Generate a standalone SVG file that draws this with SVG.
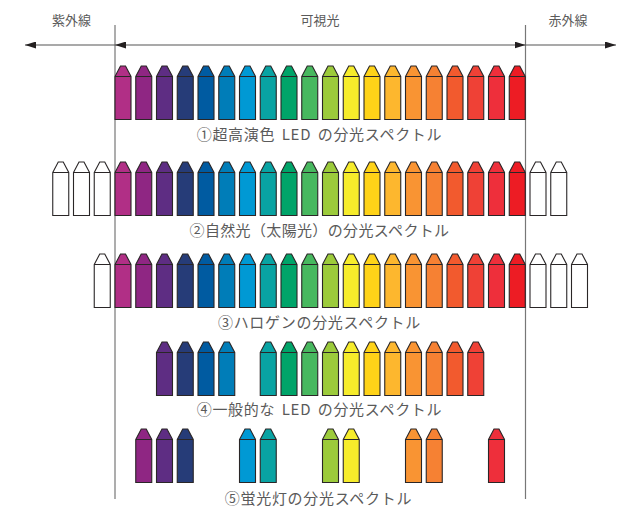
<svg xmlns="http://www.w3.org/2000/svg" width="623" height="507" viewBox="0 0 623 507">
<style>
text{font-family:"Noto Sans CJK JP","Noto Sans",sans-serif;fill:#5a5a5a;text-anchor:middle}
.h{font-size:13px}
.t{font-size:15px;letter-spacing:.7px}
.s{word-spacing:2.500px}
.n{letter-spacing:.35px}
.ln{stroke:#777;stroke-width:1.2;fill:none}
.ar{stroke:#555;stroke-width:1.2;fill:none}
.k{stroke:#2a2627;stroke-width:1.1;stroke-linejoin:miter}
.w{fill:#fff}
.c1{fill:#b12f86}.c2{fill:#8f2683}.c3{fill:#5e2d83}.c4{fill:#263c78}.c5{fill:#005ba1}
.c6{fill:#007db8}.c7{fill:#0099d4}.c8{fill:#09a3a3}.c9{fill:#00a469}.c10{fill:#47b85f}
.c11{fill:#9ccb3b}.c12{fill:#f6ec2b}.c13{fill:#ffd318}.c14{fill:#fdb72e}.c15{fill:#f99433}
.c16{fill:#f68133}.c17{fill:#f25a2e}.c18{fill:#ef4136}.c19{fill:#ee2f3b}.c20{fill:#ed1c24}
</style>
<defs>
<marker id="a" markerUnits="userSpaceOnUse" markerWidth="11" markerHeight="7" refX="11" refY="3.5" orient="auto-start-reverse"><path d="M0 0L11 3.5L0 7Z" fill="#231f20"/></marker>
<path id="p" class="k" d="M0 10.5L5.5 0H10.5L16 10.5V53.5H0ZM0 10.5H16"/>
</defs>
<g id="connectors">
<path class="ln" d="M115 25V499M525.5 25V499"/>
<path class="ar" d="M25 45H115" marker-start="url(#a)"/>
<path class="ar" d="M115 45H525.5" marker-start="url(#a)" marker-end="url(#a)"/>
<path class="ar" d="M525.5 45H616" marker-end="url(#a)"/>
</g>
<g id="header-labels">
<text class="h" x="71.5" y="25">紫外線</text>
<text class="h" x="320" y="25">可視光</text>
<text class="h" x="568" y="25">赤外線</text>
</g>
<g id="row1">
<g transform="translate(0,66)">
<use href="#p" x="115" class="c1"/><use href="#p" x="135.75" class="c2"/><use href="#p" x="156.5" class="c3"/><use href="#p" x="177.25" class="c4"/><use href="#p" x="198" class="c5"/><use href="#p" x="218.75" class="c6"/><use href="#p" x="239.5" class="c7"/><use href="#p" x="260.25" class="c8"/><use href="#p" x="281" class="c9"/><use href="#p" x="301.75" class="c10"/><use href="#p" x="322.5" class="c11"/><use href="#p" x="343.25" class="c12"/><use href="#p" x="364" class="c13"/><use href="#p" x="384.75" class="c14"/><use href="#p" x="405.5" class="c15"/><use href="#p" x="426.25" class="c16"/><use href="#p" x="447" class="c17"/><use href="#p" x="467.75" class="c18"/><use href="#p" x="488.5" class="c19"/><use href="#p" x="509.25" class="c20"/>
</g>
<text class="t s" x="319.5" y="140">①超高演色 LED の分光スペクトル</text>
</g>
<g id="row2">
<g transform="translate(0,162)">
<use href="#p" x="52.75" class="w"/><use href="#p" x="73.5" class="w"/><use href="#p" x="94.25" class="w"/>
<use href="#p" x="115" class="c1"/><use href="#p" x="135.75" class="c2"/><use href="#p" x="156.5" class="c3"/><use href="#p" x="177.25" class="c4"/><use href="#p" x="198" class="c5"/><use href="#p" x="218.75" class="c6"/><use href="#p" x="239.5" class="c7"/><use href="#p" x="260.25" class="c8"/><use href="#p" x="281" class="c9"/><use href="#p" x="301.75" class="c10"/><use href="#p" x="322.5" class="c11"/><use href="#p" x="343.25" class="c12"/><use href="#p" x="364" class="c13"/><use href="#p" x="384.75" class="c14"/><use href="#p" x="405.5" class="c15"/><use href="#p" x="426.25" class="c16"/><use href="#p" x="447" class="c17"/><use href="#p" x="467.75" class="c18"/><use href="#p" x="488.5" class="c19"/><use href="#p" x="509.25" class="c20"/>
<use href="#p" x="530" class="w"/><use href="#p" x="550.75" class="w"/>
</g>
<text class="t n" x="319.5" y="236">②自然光（太陽光）の分光スペクトル</text>
</g>
<g id="row3">
<g transform="translate(0,254)">
<use href="#p" x="94.25" class="w"/>
<use href="#p" x="115" class="c1"/><use href="#p" x="135.75" class="c2"/><use href="#p" x="156.5" class="c3"/><use href="#p" x="177.25" class="c4"/><use href="#p" x="198" class="c5"/><use href="#p" x="218.75" class="c6"/><use href="#p" x="239.5" class="c7"/><use href="#p" x="260.25" class="c8"/><use href="#p" x="281" class="c9"/><use href="#p" x="301.75" class="c10"/><use href="#p" x="322.5" class="c11"/><use href="#p" x="343.25" class="c12"/><use href="#p" x="364" class="c13"/><use href="#p" x="384.75" class="c14"/><use href="#p" x="405.5" class="c15"/><use href="#p" x="426.25" class="c16"/><use href="#p" x="447" class="c17"/><use href="#p" x="467.75" class="c18"/><use href="#p" x="488.5" class="c19"/><use href="#p" x="509.25" class="c20"/>
<use href="#p" x="530" class="w"/><use href="#p" x="550.75" class="w"/><use href="#p" x="571.5" class="w"/>
</g>
<text class="t" x="319.5" y="328">③ハロゲンの分光スペクトル</text>
</g>
<g id="row4">
<g transform="translate(0,342)">
<use href="#p" x="156.5" class="c3"/><use href="#p" x="177.25" class="c4"/><use href="#p" x="198" class="c5"/><use href="#p" x="218.75" class="c6"/>
<use href="#p" x="260.25" class="c8"/><use href="#p" x="281" class="c9"/><use href="#p" x="301.75" class="c10"/><use href="#p" x="322.5" class="c11"/><use href="#p" x="343.25" class="c12"/><use href="#p" x="364" class="c13"/><use href="#p" x="384.75" class="c14"/><use href="#p" x="405.5" class="c15"/><use href="#p" x="426.25" class="c16"/><use href="#p" x="447" class="c17"/><use href="#p" x="467.75" class="c18"/>
</g>
<text class="t s" x="319.5" y="415">④一般的な LED の分光スペクトル</text>
</g>
<g id="row5">
<g transform="translate(0,429)">
<use href="#p" x="135.75" class="c2"/><use href="#p" x="156.5" class="c3"/><use href="#p" x="177.25" class="c4"/>
<use href="#p" x="239.5" class="c7"/><use href="#p" x="260.25" class="c8"/>
<use href="#p" x="322.5" class="c11"/><use href="#p" x="343.25" class="c12"/>
<use href="#p" x="405.5" class="c15"/><use href="#p" x="426.25" class="c16"/>
<use href="#p" x="488.5" class="c19"/>
</g>
<text class="t" x="318.5" y="503.500">⑤蛍光灯の分光スペクトル</text>
</g>
</svg>
